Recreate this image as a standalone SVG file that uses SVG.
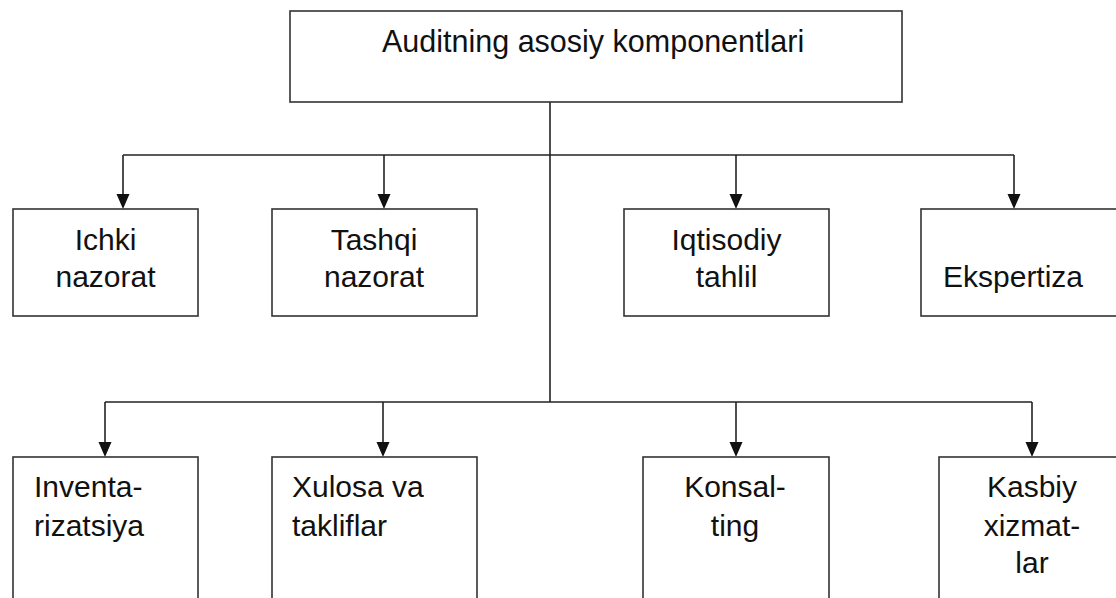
<svg xmlns="http://www.w3.org/2000/svg" width="1116" height="598" viewBox="0 0 1116 598">
<style>
.box{fill:#fff;stroke:#333;stroke-width:1.6}
.ln{fill:none;stroke:#222;stroke-width:1.6}
.arr{fill:none;stroke:#222;stroke-width:1.6;marker-end:url(#ah)}
.t{font-family:"Liberation Sans",Arial,sans-serif;font-size:30px;fill:#111}
.c{text-anchor:middle}
</style>
<defs>
<marker id="ah" markerWidth="13" markerHeight="15" refX="6.5" refY="15" orient="auto" markerUnits="userSpaceOnUse" viewBox="0 0 13 15">
<path d="M0,0 L13,0 L6.5,15 Z" fill="#111" transform="rotate(-90 6.5 7.5)"/>
</marker>
</defs>
<rect width="1116" height="598" fill="#fff"/>
<g id="connectors">
<line class="ln" x1="550" y1="102" x2="550" y2="402"/>
<line class="ln" x1="123" y1="155" x2="1014" y2="155"/>
<line class="ln" x1="105" y1="402" x2="1032" y2="402"/>
<path class="ln" d="M123,155 V196"/>
<path class="ln" d="M384,155 V196"/>
<path class="ln" d="M736,155 V196"/>
<path class="ln" d="M1014,155 V196"/>
<path class="ln" d="M105,402 V444"/>
<path class="ln" d="M383,402 V444"/>
<path class="ln" d="M736,402 V444"/>
<path class="ln" d="M1032,402 V444"/>
<path d="M116.5,194 L129.5,194 L123,209 Z M377.5,194 L390.5,194 L384,209 Z M729.5,194 L742.5,194 L736,209 Z M1007.5,194 L1020.5,194 L1014,209 Z M98.5,442 L111.5,442 L105,457 Z M376.5,442 L389.5,442 L383,457 Z M729.5,442 L742.5,442 L736,457 Z M1025.5,442 L1038.5,442 L1032,457 Z" fill="#111"/>
</g>
<g id="root">
<rect class="box" x="290" y="11" width="612" height="91"/>
<text class="t" x="382" y="52" style="font-size:30.5px">Auditning asosiy komponentlari</text>
</g>
<g id="ichki">
<rect class="box" x="13" y="209" width="185" height="107"/>
<text class="t c" x="105.5" y="250">Ichki</text>
<text class="t c" x="105.5" y="287">nazorat</text>
</g>
<g id="tashqi">
<rect class="box" x="272" y="209" width="205" height="107"/>
<text class="t c" x="374" y="250">Tashqi</text>
<text class="t c" x="374" y="287">nazorat</text>
</g>
<g id="iqtisodiy">
<rect class="box" x="624" y="209" width="205" height="107"/>
<text class="t c" x="726.5" y="250">Iqtisodiy</text>
<text class="t c" x="726.5" y="287">tahlil</text>
</g>
<g id="ekspertiza">
<rect class="box" x="921" y="209" width="220" height="107"/>
<text class="t" x="943" y="287">Ekspertiza</text>
</g>
<g id="inventarizatsiya">
<rect class="box" x="13" y="457" width="185" height="160"/>
<text class="t" x="34" y="497">Inventa-</text>
<text class="t" x="34" y="536">rizatsiya</text>
</g>
<g id="xulosa">
<rect class="box" x="272" y="457" width="205" height="160"/>
<text class="t" x="292" y="497">Xulosa va</text>
<text class="t" x="292" y="536">takliflar</text>
</g>
<g id="konsalting">
<rect class="box" x="643" y="457" width="186" height="160"/>
<text class="t c" x="735" y="497">Konsal-</text>
<text class="t c" x="735" y="536">ting</text>
</g>
<g id="kasbiy">
<rect class="box" x="939" y="457" width="200" height="160"/>
<text class="t c" x="1032" y="497">Kasbiy</text>
<text class="t c" x="1032" y="536">xizmat-</text>
<text class="t c" x="1032" y="573">lar</text>
</g>
</svg>
